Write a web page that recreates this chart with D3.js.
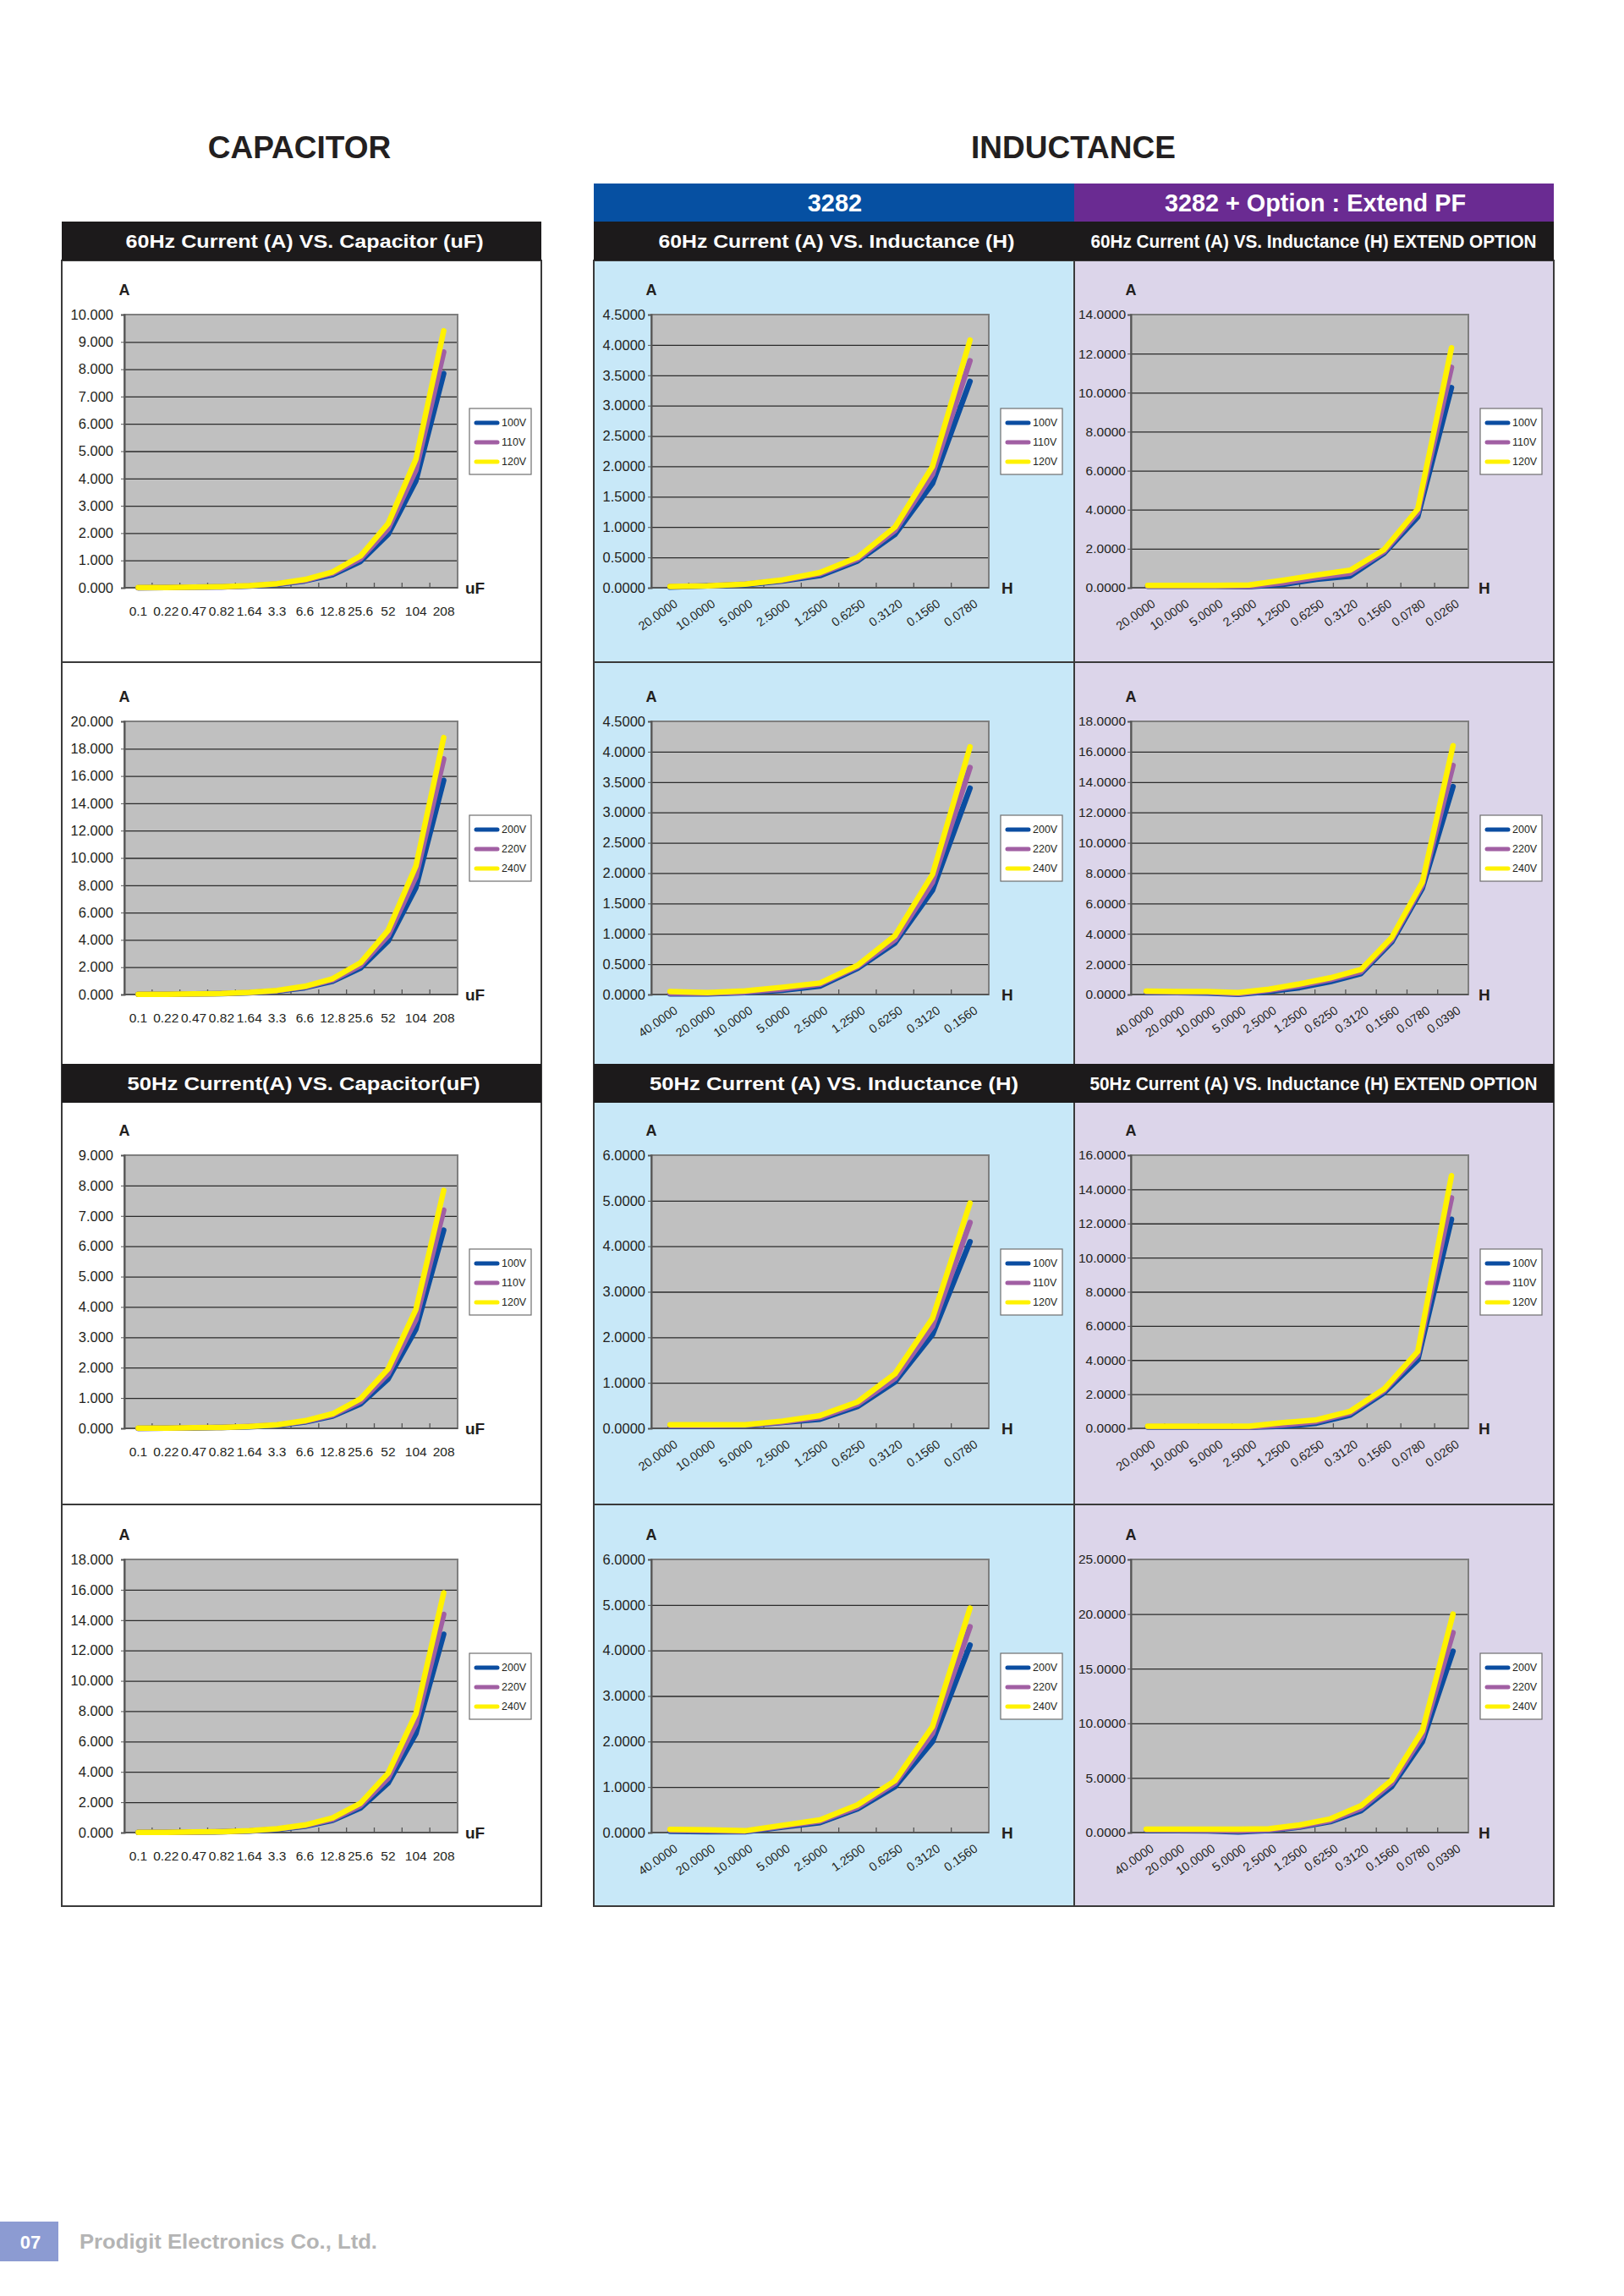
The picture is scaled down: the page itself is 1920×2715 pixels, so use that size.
<!DOCTYPE html>
<html>
<head>
<meta charset="utf-8">
<script src="https://cdn.jsdelivr.net/npm/d3@7"></script>
<style>
  body { margin: 0; background: #fff; }
  svg { display: block; font-family: "Liberation Sans", Arial, sans-serif; }
</style>
</head>
<body>
<div id="chart-area"></div>
<script>
// ---- categories (x axis) ----
const capCats = ["0.1", "0.22", "0.47", "0.82", "1.64", "3.3", "6.6", "12.8", "25.6", "52", "104", "208"];
const ind20Cats = ["20.0000", "10.0000", "5.0000", "2.5000", "1.2500", "0.6250", "0.3120", "0.1560", "0.0780"];
const ind40Cats = ["40.0000", "20.0000", "10.0000", "5.0000", "2.5000", "1.2500", "0.6250", "0.3120", "0.1560"];
const ext20Cats = ["20.0000", "10.0000", "5.0000", "2.5000", "1.2500", "0.6250", "0.3120", "0.1560", "0.0780", "0.0260"];
const ext40Cats = ["40.0000", "20.0000", "10.0000", "5.0000", "2.5000", "1.2500", "0.6250", "0.3120", "0.1560", "0.0780", "0.0390"];

const lowVolts = ["100V", "110V", "120V"];
const highVolts = ["200V", "220V", "240V"];

// ---- values (A) ----
// 60Hz capacitor
const cap60_100 = [0.00, 0.01, 0.02, 0.03, 0.06, 0.12, 0.25, 0.48, 0.96, 1.96, 3.92, 7.84];
const cap60_110 = [0.00, 0.01, 0.02, 0.03, 0.07, 0.14, 0.27, 0.53, 1.06, 2.16, 4.31, 8.63];
const cap60_120 = [0.01, 0.01, 0.02, 0.04, 0.08, 0.15, 0.30, 0.58, 1.16, 2.35, 4.71, 9.41];
const cap60_200 = [0.01, 0.02, 0.04, 0.06, 0.12, 0.25, 0.50, 0.97, 1.93, 3.92, 7.84, 15.68];
const cap60_220 = [0.01, 0.02, 0.04, 0.07, 0.14, 0.27, 0.55, 1.06, 2.12, 4.31, 8.63, 17.25];
const cap60_240 = [0.01, 0.02, 0.04, 0.07, 0.15, 0.30, 0.60, 1.16, 2.32, 4.70, 9.41, 18.82];
// 50Hz capacitor
const cap50_100 = [0.00, 0.01, 0.01, 0.03, 0.05, 0.10, 0.21, 0.40, 0.80, 1.63, 3.27, 6.53];
const cap50_110 = [0.00, 0.01, 0.02, 0.03, 0.06, 0.11, 0.23, 0.44, 0.88, 1.80, 3.59, 7.19];
const cap50_120 = [0.01, 0.01, 0.02, 0.03, 0.06, 0.12, 0.25, 0.48, 0.97, 1.96, 3.92, 7.84];
const cap50_200 = [0.01, 0.01, 0.03, 0.05, 0.10, 0.21, 0.41, 0.80, 1.61, 3.27, 6.53, 13.07];
const cap50_220 = [0.01, 0.02, 0.03, 0.06, 0.11, 0.23, 0.46, 0.88, 1.77, 3.59, 7.19, 14.38];
const cap50_240 = [0.01, 0.02, 0.04, 0.06, 0.12, 0.25, 0.50, 0.97, 1.93, 3.92, 7.84, 15.80];
// 60Hz inductance 3282
const ind60_100 = [0.01, 0.03, 0.05, 0.11, 0.20, 0.44, 0.88, 1.72, 3.40];
const ind60_110 = [0.02, 0.03, 0.06, 0.12, 0.23, 0.47, 0.94, 1.87, 3.74];
const ind60_120 = [0.02, 0.03, 0.06, 0.13, 0.25, 0.50, 1.00, 2.00, 4.08];
const ind60_200 = [0.01, 0.01, 0.03, 0.07, 0.14, 0.43, 0.85, 1.72, 3.40];
const ind60_220 = [0.02, 0.02, 0.04, 0.09, 0.17, 0.46, 0.90, 1.85, 3.74];
const ind60_240 = [0.05, 0.03, 0.06, 0.12, 0.19, 0.48, 0.97, 1.98, 4.08];
// 60Hz inductance extend option
const ext60_100 = [0.08, 0.08, 0.08, 0.05, 0.17, 0.43, 0.60, 1.76, 3.63, 10.26];
const ext60_110 = [0.09, 0.09, 0.09, 0.08, 0.25, 0.52, 0.75, 1.85, 3.85, 11.30];
const ext60_120 = [0.12, 0.12, 0.12, 0.14, 0.38, 0.65, 0.90, 1.95, 4.03, 12.30];
const ext60_200 = [0.15, 0.12, 0.10, 0.02, 0.20, 0.45, 0.85, 1.38, 3.45, 7.00, 13.70];
const ext60_220 = [0.18, 0.16, 0.15, 0.06, 0.28, 0.58, 0.98, 1.50, 3.60, 7.20, 15.10];
const ext60_240 = [0.22, 0.20, 0.20, 0.12, 0.35, 0.70, 1.10, 1.65, 3.75, 7.40, 16.40];
// 50Hz inductance 3282
const ind50_100 = [0.05, 0.05, 0.06, 0.13, 0.20, 0.48, 1.02, 2.06, 4.10];
const ind50_110 = [0.06, 0.06, 0.07, 0.14, 0.24, 0.53, 1.10, 2.24, 4.52];
const ind50_120 = [0.08, 0.08, 0.08, 0.16, 0.28, 0.58, 1.20, 2.42, 4.95];
const ind50_200 = [0.03, 0.02, 0.02, 0.12, 0.22, 0.52, 1.01, 2.00, 4.12];
const ind50_220 = [0.05, 0.04, 0.03, 0.14, 0.25, 0.56, 1.08, 2.18, 4.52];
const ind50_240 = [0.07, 0.06, 0.04, 0.16, 0.28, 0.61, 1.14, 2.33, 4.93];
// 50Hz inductance extend option
const ext50_100 = [0.08, 0.08, 0.08, 0.06, 0.12, 0.30, 0.78, 2.08, 4.00, 12.25];
const ext50_110 = [0.10, 0.10, 0.10, 0.08, 0.20, 0.40, 0.90, 2.20, 4.30, 13.50];
const ext50_120 = [0.12, 0.12, 0.12, 0.12, 0.33, 0.50, 1.00, 2.30, 4.50, 14.80];
const ext50_200 = [0.20, 0.18, 0.15, 0.05, 0.20, 0.50, 1.00, 2.00, 4.20, 8.30, 16.60];
const ext50_220 = [0.25, 0.24, 0.22, 0.15, 0.25, 0.55, 1.10, 2.20, 4.50, 8.80, 18.30];
const ext50_240 = [0.30, 0.30, 0.30, 0.30, 0.35, 0.70, 1.25, 2.45, 4.80, 9.30, 20.00];

// ---- page layout ----
const W = 1920, H = 2715;
const COLS = {
  cap: { x0: 73, x1: 640, plotL: 147, plotR: 541, pad: 9, yFont: 16.5, unit: "uF", unitDx: 9, bg: "#ffffff" },
  ind: { x0: 702, x1: 1270, plotL: 770, plotR: 1169, pad: 3, yFont: 16.5, unit: "H", unitDx: 15, bg: "#c8e8f8" },
  ext: { x0: 1270, x1: 1837, plotL: 1337, plotR: 1736, pad: 2, yFont: 15.5, unit: "H", unitDx: 12, bg: "#dcd5ea" }
};
const PANEL_TOP = [308, 783, 1304, 1779];
const PANEL_BOTTOM = 2254;
const PLOT_TOP = [372, 853, 1366, 1844];
const PLOT_H = 323;
const SERIES_COLORS = ["#0b4da1", "#a15fa3", "#fff200"];

const charts = [
  { col: "cap", row: 0, cats: capCats, names: lowVolts, series: [cap60_100, cap60_110, cap60_120], max: 10, step: 1, fmt: ".3f" },
  { col: "cap", row: 1, cats: capCats, names: highVolts, series: [cap60_200, cap60_220, cap60_240], max: 20, step: 2, fmt: ".3f" },
  { col: "cap", row: 2, cats: capCats, names: lowVolts, series: [cap50_100, cap50_110, cap50_120], max: 9, step: 1, fmt: ".3f" },
  { col: "cap", row: 3, cats: capCats, names: highVolts, series: [cap50_200, cap50_220, cap50_240], max: 18, step: 2, fmt: ".3f" },
  { col: "ind", row: 0, cats: ind20Cats, names: lowVolts, series: [ind60_100, ind60_110, ind60_120], max: 4.5, step: 0.5, fmt: ".4f" },
  { col: "ind", row: 1, cats: ind40Cats, names: highVolts, series: [ind60_200, ind60_220, ind60_240], max: 4.5, step: 0.5, fmt: ".4f" },
  { col: "ind", row: 2, cats: ind20Cats, names: lowVolts, series: [ind50_100, ind50_110, ind50_120], max: 6, step: 1, fmt: ".4f" },
  { col: "ind", row: 3, cats: ind40Cats, names: highVolts, series: [ind50_200, ind50_220, ind50_240], max: 6, step: 1, fmt: ".4f" },
  { col: "ext", row: 0, cats: ext20Cats, names: lowVolts, series: [ext60_100, ext60_110, ext60_120], max: 14, step: 2, fmt: ".4f" },
  { col: "ext", row: 1, cats: ext40Cats, names: highVolts, series: [ext60_200, ext60_220, ext60_240], max: 18, step: 2, fmt: ".4f" },
  { col: "ext", row: 2, cats: ext20Cats, names: lowVolts, series: [ext50_100, ext50_110, ext50_120], max: 16, step: 2, fmt: ".4f" },
  { col: "ext", row: 3, cats: ext40Cats, names: highVolts, series: [ext50_200, ext50_220, ext50_240], max: 25, step: 5, fmt: ".4f" }
];

const svg = d3.select("#chart-area").append("svg")
  .attr("width", W)
  .attr("height", H);

// panel backgrounds
Object.values(COLS).forEach(c => {
  svg.append("rect")
    .attr("x", c.x0).attr("y", PANEL_TOP[0])
    .attr("width", c.x1 - c.x0).attr("height", PANEL_BOTTOM - PANEL_TOP[0])
    .attr("fill", c.bg);
});

// panel borders
const borders = svg.append("g").attr("stroke", "#3a3a3a").attr("stroke-width", 2).attr("fill", "none");
borders.append("rect").attr("x", 73).attr("y", PANEL_TOP[0]).attr("width", 567).attr("height", PANEL_BOTTOM - PANEL_TOP[0]);
borders.append("rect").attr("x", 702).attr("y", PANEL_TOP[0]).attr("width", 1135).attr("height", PANEL_BOTTOM - PANEL_TOP[0]);
borders.append("line").attr("x1", 1270).attr("x2", 1270).attr("y1", 217).attr("y2", PANEL_BOTTOM);
[783, 1779].forEach(yy => {
  borders.append("line").attr("x1", 73).attr("x2", 640).attr("y1", yy).attr("y2", yy);
  borders.append("line").attr("x1", 702).attr("x2", 1837).attr("y1", yy).attr("y2", yy);
});

// big titles
svg.append("text").attr("x", 354).attr("y", 187).attr("text-anchor", "middle")
  .attr("font-size", 37).attr("font-weight", 700).attr("fill", "#231f20").text("CAPACITOR");
svg.append("text").attr("x", 1269).attr("y", 187).attr("text-anchor", "middle")
  .attr("font-size", 37).attr("font-weight", 700).attr("fill", "#231f20").text("INDUCTANCE");

// coloured model headers
svg.append("rect").attr("x", 702).attr("y", 217).attr("width", 568).attr("height", 45).attr("fill", "#0650a2");
svg.append("rect").attr("x", 1270).attr("y", 217).attr("width", 567).attr("height", 45).attr("fill", "#6a2b92");
svg.append("text").attr("x", 987).attr("y", 250).attr("text-anchor", "middle")
  .attr("font-size", 29).attr("font-weight", 700).attr("fill", "#fff").text("3282");
svg.append("text").attr("x", 1555).attr("y", 250).attr("text-anchor", "middle")
  .attr("font-size", 29).attr("font-weight", 700).attr("fill", "#fff")
  .attr("textLength", 356).attr("lengthAdjust", "spacingAndGlyphs").text("3282 + Option : Extend PF");

// black section bars
const bars = [
  { y: 262, x0: 73, x1: 640, cx: 360, len: 423, text: "60Hz Current (A) VS. Capacitor (uF)" },
  { y: 262, x0: 702, x1: 1270, cx: 989, len: 421, text: "60Hz Current (A) VS. Inductance (H)" },
  { y: 262, x0: 1270, x1: 1837, cx: 1553, len: 527, text: "60Hz Current (A) VS. Inductance (H) EXTEND OPTION" },
  { y: 1258, x0: 73, x1: 640, cx: 359, len: 417, text: "50Hz  Current(A) VS. Capacitor(uF)" },
  { y: 1258, x0: 702, x1: 1270, cx: 986, len: 436, text: "50Hz  Current (A) VS. Inductance (H)" },
  { y: 1258, x0: 1270, x1: 1837, cx: 1553, len: 529, text: "50Hz Current (A) VS. Inductance (H) EXTEND OPTION" }
];
bars.forEach(b => {
  svg.append("rect").attr("x", b.x0).attr("y", b.y).attr("width", b.x1 - b.x0).attr("height", 46).attr("fill", "#1c1a1b");
  svg.append("text").attr("x", b.cx).attr("y", b.y + 31).attr("text-anchor", "middle")
    .attr("font-size", 22).attr("font-weight", 700).attr("fill", "#fff")
    .attr("textLength", b.len).attr("lengthAdjust", "spacingAndGlyphs").text(b.text);
});

// one chart
function drawChart(cfg) {
  const c = COLS[cfg.col];
  const top = PLOT_TOP[cfg.row];
  const bottom = top + PLOT_H;
  const g = svg.append("g");

  const x = d3.scaleBand().domain(cfg.cats).range([c.plotL, c.plotR]);
  const y = d3.scaleLinear().domain([0, cfg.max]).range([bottom, top]);
  const ticks = d3.range(0, cfg.max + cfg.step / 2, cfg.step);

  g.append("rect")
    .attr("x", c.plotL).attr("y", top)
    .attr("width", c.plotR - c.plotL).attr("height", PLOT_H)
    .attr("fill", "#c0c0c0");

  // gridlines
  g.append("g")
    .attr("transform", `translate(${c.plotL},0)`)
    .call(d3.axisLeft(y).tickValues(ticks.filter(t => t > 0 && t < cfg.max))
      .tickSize(-(c.plotR - c.plotL)).tickFormat(""))
    .call(s => s.select(".domain").remove())
    .call(s => s.selectAll("line").attr("stroke", "#2b2b2b").attr("stroke-width", 1.3));

  g.append("rect")
    .attr("x", c.plotL).attr("y", top)
    .attr("width", c.plotR - c.plotL).attr("height", PLOT_H)
    .attr("fill", "none").attr("stroke", "#7f7f7f").attr("stroke-width", 2);

  // y axis
  g.append("g")
    .attr("transform", `translate(${c.plotL},0)`)
    .call(d3.axisLeft(y).tickValues(ticks).tickSize(4).tickPadding(c.pad).tickFormat(d3.format(cfg.fmt)))
    .call(s => s.select(".domain").attr("stroke", "#555").attr("stroke-width", 2))
    .call(s => s.selectAll("line").attr("stroke", "#555"))
    .call(s => s.selectAll("text").attr("font-size", c.yFont).attr("fill", "#231f20")
      .attr("font-family", "'Liberation Sans', Arial, sans-serif"));

  // x axis line and inner ticks between categories
  g.append("line").attr("x1", c.plotL).attr("x2", c.plotR).attr("y1", bottom).attr("y2", bottom)
    .attr("stroke", "#555").attr("stroke-width", 2);
  g.selectAll(".xtick").data(cfg.cats.slice(1)).enter().append("line")
    .attr("x1", d => x(d)).attr("x2", d => x(d))
    .attr("y1", bottom).attr("y2", bottom - 6)
    .attr("stroke", "#555").attr("stroke-width", 1.3);

  // x labels
  const half = x.bandwidth() / 2;
  if (cfg.col === "cap") {
    g.selectAll(".xlab").data(cfg.cats).enter().append("text")
      .attr("x", d => x(d) + half).attr("y", bottom + 33)
      .attr("text-anchor", "middle").attr("font-size", 15.5).attr("fill", "#231f20")
      .text(d => d);
  } else {
    g.selectAll(".xlab").data(cfg.cats).enter().append("text")
      .attr("transform", d => `translate(${x(d) + half + 10},${bottom + 21}) rotate(-35)`)
      .attr("text-anchor", "end").attr("font-size", 14.5).attr("fill", "#231f20")
      .text(d => d);
  }

  // series lines
  const line = d3.line()
    .x((d, i) => x(cfg.cats[i]) + half)
    .y(d => y(d));
  cfg.series.forEach((s, k) => {
    g.append("path")
      .datum(s)
      .attr("d", line)
      .attr("fill", "none")
      .attr("stroke", SERIES_COLORS[k])
      .attr("stroke-width", 6.5)
      .attr("stroke-linejoin", "round")
      .attr("stroke-linecap", "round");
  });

  // axis titles
  g.append("text").attr("x", c.plotL).attr("y", top - 23).attr("text-anchor", "middle")
    .attr("font-size", 18).attr("font-weight", 700).attr("fill", "#231f20").text("A");
  g.append("text").attr("x", c.plotR + c.unitDx).attr("y", bottom + 7)
    .attr("font-size", 19).attr("font-weight", 700).attr("fill", "#231f20").text(c.unit);

  // legend
  const lx = c.plotR + 14, ly = top + 111;
  const leg = g.append("g").attr("transform", `translate(${lx},${ly})`);
  leg.append("rect").attr("width", 73).attr("height", 78)
    .attr("fill", "#fff").attr("stroke", "#6f6f6f").attr("stroke-width", 1.2);
  cfg.names.forEach((n, k) => {
    const yy = 17 + k * 23;
    leg.append("line").attr("x1", 8).attr("x2", 33).attr("y1", yy).attr("y2", yy)
      .attr("stroke", SERIES_COLORS[k]).attr("stroke-width", 5).attr("stroke-linecap", "round");
    leg.append("text").attr("x", 38).attr("y", yy + 4).attr("font-size", 12.5).attr("fill", "#231f20").text(n);
  });
}

charts.forEach(drawChart);

// footer
svg.append("rect").attr("x", 0).attr("y", 2627).attr("width", 69).attr("height", 47).attr("fill", "#8c9bd2");
svg.append("text").attr("x", 36).attr("y", 2659).attr("text-anchor", "middle")
  .attr("font-size", 22).attr("font-weight", 700).attr("fill", "#fff").text("07");
svg.append("text").attr("x", 94).attr("y", 2659)
  .attr("font-size", 23).attr("font-weight", 700).attr("fill", "#b4b4b4")
  .attr("textLength", 352).attr("lengthAdjust", "spacingAndGlyphs").text("Prodigit Electronics Co., Ltd.");
</script>
</body>
</html>
